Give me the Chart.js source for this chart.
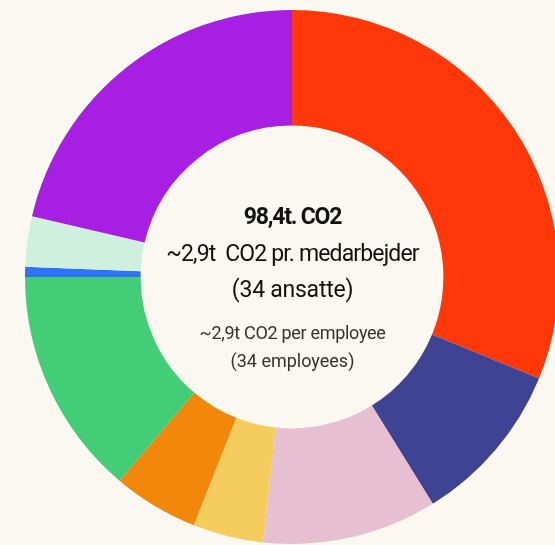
<!DOCTYPE html>
<html lang="da">
<head>
  <meta charset="UTF-8">
  <title>CO2 udledning</title>
  <script src="https://cdn.jsdelivr.net/npm/chart.js"></script>
  <style>
    html, body { margin: 0; padding: 0; width: 555px; height: 545px; overflow: hidden; background: #FBF8F1; }
    #wrap { position: absolute; left: 25px; top: 10px; width: 534px; height: 534px; }
    .txt { position: absolute; left: 15px; width: 555px; text-align: center; height: 30px; line-height: 30px;
           font-family: 'Roboto', sans-serif; color: #111; white-space: pre; }
    .big { font-size: 23px; }
    .small { font-size: 18px; color: #333; }
  </style>
</head>
<body>
  <div id="wrap"><canvas id="donut" width="534" height="534"></canvas></div>
  <div class="txt big" style="top:202px; font-weight:bold; letter-spacing:-1.2px">98,4t. CO2</div>
  <div class="txt big" style="top:239px; letter-spacing:-0.85px">~2,9t  CO2 pr. medarbejder</div>
  <div class="txt big" style="top:275px; letter-spacing:-0.25px">(34 ansatte)</div>
  <div class="txt small" style="top:318px; letter-spacing:-0.3px">~2,9t CO2 per employee</div>
  <div class="txt small" style="top:346px">(34 employees)</div>

  <script>
    // tons CO2 per kategori
    const kategorier = ['Kategori 1', 'Kategori 2', 'Kategori 3', 'Kategori 4', 'Kategori 5',
                        'Kategori 6', 'Kategori 7', 'Kategori 8', 'Kategori 9'];
    const tons = [30.7, 9.8, 10.4, 4.2, 5.1, 13.6, 0.6, 3.0, 21.0];
    const farver = ['#FF3709', '#3E4393', '#E6BFD1', '#F5CC5E', '#F2880B',
                    '#43CD77', '#2D72F8', '#D0F0DF', '#A71FE3'];

    const ctx = document.getElementById('donut').getContext('2d');
    new Chart(ctx, {
      type: 'doughnut',
      data: {
        labels: kategorier,
        datasets: [{ data: tons, backgroundColor: farver, borderWidth: 0, hoverOffset: 0, offset: 0 }]
      },
      options: {
        responsive: false,
        animation: false,
        cutout: '56.7%',
        layout: { padding: 0 },
        plugins: { legend: { display: false }, tooltip: { enabled: false } }
      }
    });
  </script>
</body>
</html>
